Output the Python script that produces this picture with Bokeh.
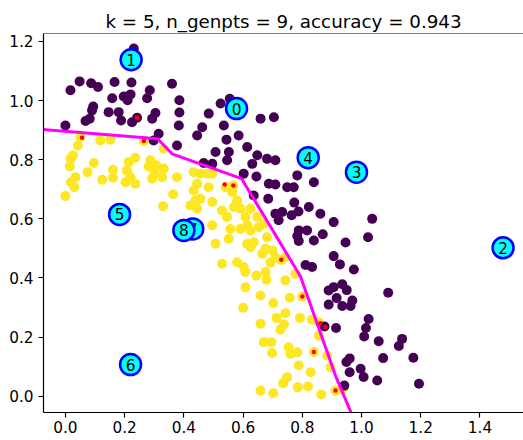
from bokeh.plotting import figure
from bokeh.models import ColumnDataSource, Range1d, FixedTicker, PrintfTickFormatter, Span
from bokeh.core.properties import value
from bokeh.embed import file_html
from bokeh.resources import INLINE

TITLE = "k = 5, n_genpts = 9, accuracy = 0.943"

# class 0 (purple) points
purple_x = [0.231, 0.048, 0.017, 0.087, 0.110, 0.166, 0.223, 0.158, 0.197, 0.220,
            0.210, 0.285, 0.276, 0.360, 0.385, 0.094, 0.090, 0.146, 0.180, 0.188,
            0.082, 0.068, 0.000, 0.225, 0.242, 0.293, 0.304, 0.315, 0.385, 0.383,
            0.377, 0.298, 0.462, 0.445, 0.535, 0.585, 0.507, 0.552, 0.546, 0.614,
            0.467, 0.496, 0.602, 0.484, 0.524, 0.555, 0.544, 0.659, 0.704, 0.648,
            0.631, 0.681, 0.709, 0.645, 0.783, 0.839, 0.687, 0.709, 0.749, 0.771,
            0.636, 0.685, 0.773, 0.709, 0.732, 0.764, 0.787, 0.720, 0.822, 0.861,
            0.906, 0.788, 0.816, 0.869, 0.783, 0.788, 0.839, 0.946, 0.906, 1.036,
            1.022, 0.811, 0.833, 0.927, 0.974, 0.906, 0.935, 0.950, 0.889, 0.916,
            0.889, 0.935, 0.963, 0.969, 1.090, 1.024, 1.015, 1.009, 1.058, 1.137,
            1.126, 1.073, 1.175, 0.960, 0.949, 0.960, 0.997, 1.007, 1.053, 1.194,
            0.942, 0.875, 0.914]
purple_y = [1.176, 1.065, 1.035, 1.059, 1.046, 1.063, 1.061, 1.008, 1.014, 1.021,
            1.001, 1.035, 1.008, 1.057, 1.001, 0.980, 0.967, 0.961, 0.961, 0.933,
            0.939, 0.931, 0.916, 0.927, 0.942, 0.939, 0.958, 0.888, 0.960, 0.916,
            0.848, 0.865, 0.910, 0.882, 0.916, 0.882, 0.826, 0.826, 0.798, 0.843,
            0.789, 0.786, 0.753, 0.956, 0.990, 1.006, 0.868, 0.939, 0.944, 0.815,
            0.786, 0.803, 0.798, 0.743, 0.747, 0.724, 0.719, 0.716, 0.707, 0.707,
            0.679, 0.668, 0.655, 0.617, 0.623, 0.612, 0.625, 0.595, 0.640, 0.617,
            0.589, 0.561, 0.561, 0.548, 0.542, 0.525, 0.527, 0.520, 0.474, 0.600,
            0.538, 0.444, 0.437, 0.446, 0.429, 0.369, 0.379, 0.359, 0.358, 0.332,
            0.310, 0.305, 0.305, 0.324, 0.350, 0.261, 0.231, 0.202, 0.186, 0.194,
            0.170, 0.129, 0.130, 0.128, 0.116, 0.081, 0.093, 0.065, 0.053, 0.042,
            0.036, 0.236, 0.231]

# class 1 (yellow) points
yellow_x = [0.051, 0.118, 0.152, 0.042, 0.026, 0.017, 0.015, 0.034, 0.019, 0.030,
            0.000, 0.075, 0.096, 0.124, 0.161, 0.161, 0.214, 0.236, 0.208, 0.220,
            0.203, 0.236, 0.265, 0.287, 0.281, 0.307, 0.332, 0.301, 0.293, 0.327,
            0.332, 0.364, 0.330, 0.377, 0.433, 0.456, 0.479, 0.496, 0.433, 0.445,
            0.484, 0.456, 0.439, 0.422, 0.496, 0.445, 0.541, 0.567, 0.563, 0.580,
            0.569, 0.529, 0.546, 0.591, 0.608, 0.496, 0.557, 0.591, 0.614, 0.552,
            0.507, 0.614, 0.529, 0.580, 0.602, 0.625, 0.648, 0.681, 0.625, 0.676,
            0.698, 0.709, 0.743, 0.729, 0.653, 0.636, 0.625, 0.670, 0.693, 0.665,
            0.608, 0.645, 0.676, 0.679, 0.743, 0.777, 0.608, 0.659, 0.702, 0.758,
            0.800, 0.600, 0.743, 0.713, 0.738, 0.726, 0.792, 0.659, 0.833, 0.856,
            0.670, 0.695, 0.698, 0.754, 0.760, 0.783, 0.839, 0.884, 0.788, 0.828,
            0.749, 0.735, 0.659, 0.702, 0.785, 0.819, 0.864, 0.912, 0.935, 0.856,
            0.895]
yellow_y = [0.876, 0.865, 0.868, 0.848, 0.815, 0.803, 0.777, 0.741, 0.724, 0.707,
            0.677, 0.758, 0.789, 0.732, 0.766, 0.739, 0.792, 0.807, 0.764, 0.741,
            0.724, 0.719, 0.863, 0.798, 0.777, 0.781, 0.770, 0.755, 0.736, 0.741,
            0.837, 0.683, 0.643, 0.741, 0.758, 0.753, 0.753, 0.753, 0.696, 0.719,
            0.707, 0.668, 0.662, 0.645, 0.657, 0.634, 0.707, 0.713, 0.690, 0.662,
            0.640, 0.628, 0.606, 0.634, 0.606, 0.578, 0.566, 0.566, 0.578, 0.533,
            0.516, 0.516, 0.448, 0.453, 0.437, 0.634, 0.606, 0.538, 0.561, 0.499,
            0.493, 0.470, 0.470, 0.461, 0.572, 0.521, 0.504, 0.583, 0.452, 0.482,
            0.420, 0.408, 0.420, 0.394, 0.392, 0.414, 0.369, 0.341, 0.315, 0.333,
            0.337, 0.299, 0.281, 0.265, 0.243, 0.225, 0.265, 0.245, 0.259, 0.205,
            0.183, 0.183, 0.146, 0.166, 0.143, 0.149, 0.150, 0.138, 0.104, 0.081,
            0.064, 0.044, 0.019, 0.010, 0.030, 0.033, 0.006, 0.019, 0.022, 0.250,
            0.098]

# misclassified test points (red)
miss_x = [0.056, 0.242, 0.265, 0.538, 0.567, 0.729, 0.800, 0.861, 0.878, 0.839, 0.912]
miss_y = [0.874, 0.942, 0.863, 0.716, 0.713, 0.462, 0.337, 0.247, 0.234, 0.150, 0.019]

# decision boundary
bound_x = [-0.08, 0.311, 0.360, 0.595, 0.794, 0.912, 0.975]
bound_y = [0.903, 0.871, 0.820, 0.736, 0.405, 0.070, -0.08]

# generated points
gen_x = [0.578, 0.222, 1.478, 0.983, 0.820, 0.183, 0.220, 0.430, 0.400]
gen_y = [0.973, 1.138, 0.502, 0.758, 0.807, 0.615, 0.107, 0.566, 0.561]
gen_labels = [str(i) for i in range(len(gen_x))]

x_ticks = [0.0, 0.2, 0.4, 0.6, 0.8, 1.0, 1.2, 1.4]
y_ticks = [0.0, 0.2, 0.4, 0.6, 0.8, 1.0, 1.2]

FONT = "DejaVu Sans"

p = figure(width=523, height=440, output_backend="svg", toolbar_location=None,
           x_range=Range1d(-0.074, 1.547), y_range=Range1d(-0.055, 1.227),
           min_border_left=43, min_border_right=0, min_border_top=33, min_border_bottom=28,
           title=TITLE)
p.title.text_font = FONT
p.title.text_font_size = "18.3px"
p.title.text_font_style = "normal"
p.title.text_color = "black"
p.title.align = "center"
p.title.standoff = 3
p.xgrid.visible = False
p.ygrid.visible = False
p.outline_line_color = None
p.background_fill_color = "white"
p.border_fill_color = "white"

for ax, ticks in ((p.xaxis[0], x_ticks), (p.yaxis[0], y_ticks)):
    ax.ticker = FixedTicker(ticks=ticks)
    ax.formatter = PrintfTickFormatter(format="%.1f")
    ax.major_label_text_font = FONT
    ax.major_label_text_font_size = "15.3px"
    ax.major_label_text_color = "black"
    ax.axis_line_color = "black"
    ax.axis_line_width = 1.2
    ax.major_tick_line_color = "black"
    ax.major_tick_line_width = 1.2
    ax.major_tick_in = 0
    ax.major_tick_out = 5
    ax.minor_tick_line_color = None
p.xaxis.major_label_standoff = 3
p.yaxis.major_label_standoff = 5

p.add_layout(Span(location=1.227, dimension="width", line_color="black", line_width=1.2))

ysrc = ColumnDataSource(dict(x=yellow_x, y=yellow_y))
psrc = ColumnDataSource(dict(x=purple_x, y=purple_y))
p.scatter("x", "y", source=ysrc, size=10, fill_color="#fde725", line_color=None)
p.scatter("x", "y", source=psrc, size=10, fill_color="#440154", line_color=None)

p.line(bound_x, bound_y, line_color="#ff00ff", line_width=3)

p.scatter(miss_x, miss_y, size=4.5, fill_color="red", line_color=None)

for i in range(len(gen_x)):
    src = ColumnDataSource(dict(x=[gen_x[i]], y=[gen_y[i]], t=[gen_labels[i]]))
    p.scatter("x", "y", source=src, size=21, fill_color="cyan", line_color="blue", line_width=2.5)
    p.text("x", "y", text="t", source=src, text_align="center", text_baseline="middle",
           text_font=value(FONT), text_font_size="15.3px", text_color="black")

open("out.html", "w").write(file_html(p, INLINE))
